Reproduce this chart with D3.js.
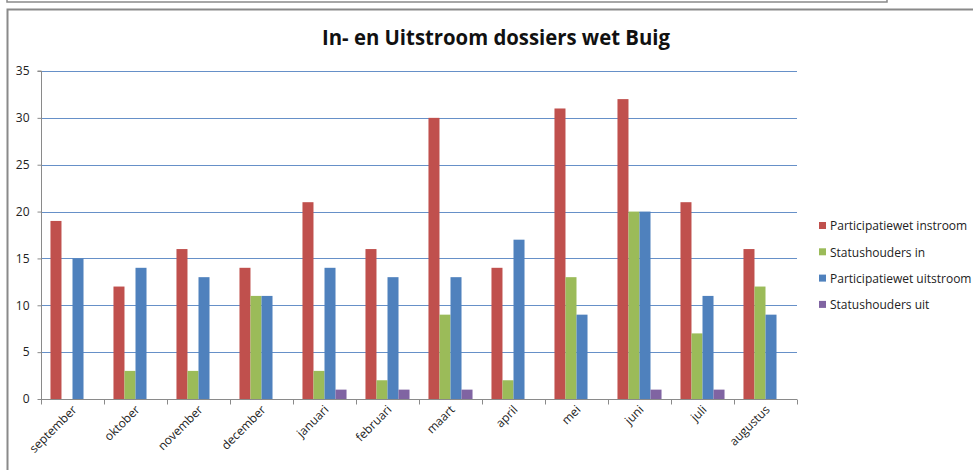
<!DOCTYPE html>
<html lang="nl">
<head>
    <meta charset="UTF-8">
    <title>In- en Uitstroom dossiers wet Buig</title>
    <script src="https://d3js.org/d3.v7.min.js"></script>
    <style>
        body { margin: 0; background: #fff; }
        svg { display: block; }
        text { font-family: "Open Sans", "Liberation Sans", sans-serif; }
    </style>
</head>
<body>
    <svg id="chart" width="973" height="470"></svg>
    <script>
        // data
        const months = ['september', 'oktober', 'november', 'december', 'januari', 'februari',
                        'maart', 'april', 'mei', 'juni', 'juli', 'augustus'];
        const seriesNames = ['Participatiewet instroom', 'Statushouders in',
                             'Participatiewet uitstroom', 'Statushouders uit'];
        const partIn  = [19, 12, 16, 14, 21, 16, 30, 14, 31, 32, 21, 16];
        const statIn  = [0, 3, 3, 11, 3, 2, 9, 2, 13, 20, 7, 12];
        const partOut = [15, 14, 13, 11, 14, 13, 13, 17, 9, 20, 11, 9];
        const statOut = [0, 0, 0, 0, 1, 1, 1, 0, 0, 1, 1, 0];
        const yTicks = [0, 5, 10, 15, 20, 25, 30, 35];

        const colors = ['#C0504D', '#9BBB59', '#4F81BD', '#8064A2'];
        const values = [partIn, statIn, partOut, statOut];

        const svg = d3.select('#chart');
        const plot = { left: 41, right: 797, top: 71, bottom: 399 };

        // outer frames
        svg.append('rect')
            .attr('x', 7).attr('y', -10).attr('width', 880).attr('height', 12)
            .attr('fill', 'none').attr('stroke', '#8a8a8a').attr('stroke-width', 1.5);
        svg.append('path')
            .attr('d', 'M7.5,480 L7.5,9.5 L980,9.5')
            .attr('fill', 'none').attr('stroke', '#8a8a8a').attr('stroke-width', 2);

        const x = d3.scaleBand().domain(months).range([plot.left, plot.right]);
        const x1 = d3.scaleBand().domain(seriesNames)
            .range([0, x.bandwidth()]).paddingOuter(0.86);
        const y = d3.scaleLinear().domain([0, 35]).range([plot.bottom, plot.top]);

        // gridlines
        svg.append('g')
            .selectAll('line')
            .data(yTicks.filter(d => d > 0))
            .join('line')
            .attr('x1', plot.left).attr('x2', plot.right)
            .attr('y1', d => Math.round(y(d)) + 0.5).attr('y2', d => Math.round(y(d)) + 0.5)
            .attr('stroke', '#6690c8').attr('stroke-width', 1);

        // bars
        const groups = svg.append('g')
            .selectAll('g')
            .data(months)
            .join('g')
            .attr('transform', d => `translate(${x(d)},0)`);
        groups.selectAll('rect')
            .data((m, i) => seriesNames.map((s, k) => ({ s, k, v: values[k][i] })).filter(d => d.v > 0))
            .join('rect')
            .attr('x', d => x1(d.s))
            .attr('width', x1.bandwidth())
            .attr('y', d => y(d.v))
            .attr('height', d => y(0) - y(d.v))
            .attr('fill', d => colors[d.k]);

        // y axis
        const yAxis = svg.append('g')
            .attr('transform', `translate(${plot.left + 0.5},0)`)
            .call(d3.axisLeft(y).tickValues(yTicks).tickSize(4).tickPadding(8));
        yAxis.select('.domain').attr('stroke', '#8a8a8a').attr('d', `M-4,${plot.top}H0V${plot.bottom}`);
        yAxis.selectAll('.tick line').attr('stroke', '#8a8a8a');
        yAxis.selectAll('text').attr('font-size', 12).attr('fill', '#222');

        // x axis
        const xAxis = svg.append('g')
            .attr('transform', `translate(0,${plot.bottom + 0.5})`)
            .call(d3.axisBottom(x).tickSize(0).tickFormat(''));
        xAxis.select('.domain').attr('stroke', '#8a8a8a').attr('d', `M${plot.left},0H${plot.right}`);
        xAxis.selectAll('.tick').remove();
        xAxis.selectAll('line.sep')
            .data(months.map(m => x(m)).concat([plot.right]))
            .join('line')
            .attr('class', 'sep')
            .attr('x1', d => Math.round(d) + 0.5).attr('x2', d => Math.round(d) + 0.5)
            .attr('y1', 0).attr('y2', 5)
            .attr('stroke', '#8a8a8a');
        xAxis.selectAll('text.lbl')
            .data(months)
            .join('text')
            .attr('class', 'lbl')
            .attr('transform', d => `translate(${x(d) + x.bandwidth() / 2 + 2},8) rotate(-45)`)
            .attr('text-anchor', 'end')
            .attr('dy', '0.35em')
            .attr('font-size', 12)
            .attr('fill', '#222')
            .text(d => d);

        // title
        svg.append('text')
            .attr('x', 496).attr('y', 45)
            .attr('text-anchor', 'middle')
            .attr('font-size', 22)
            .attr('font-weight', 'bold')
            .attr('fill', '#111')
            .attr('textLength', 348)
            .attr('lengthAdjust', 'spacingAndGlyphs')
            .text('In- en Uitstroom dossiers wet Buig');

        // legend
        const legend = svg.append('g')
            .selectAll('g')
            .data(seriesNames)
            .join('g')
            .attr('transform', (d, i) => `translate(819,${222 + i * 26.3})`);
        legend.append('rect')
            .attr('width', 7).attr('height', 7)
            .attr('fill', (d, i) => colors[i]);
        legend.append('text')
            .attr('x', 11).attr('y', 4).attr('dy', '0.35em')
            .attr('font-size', 12)
            .attr('fill', '#222')
            .text(d => d);
    </script>
</body>
</html>
